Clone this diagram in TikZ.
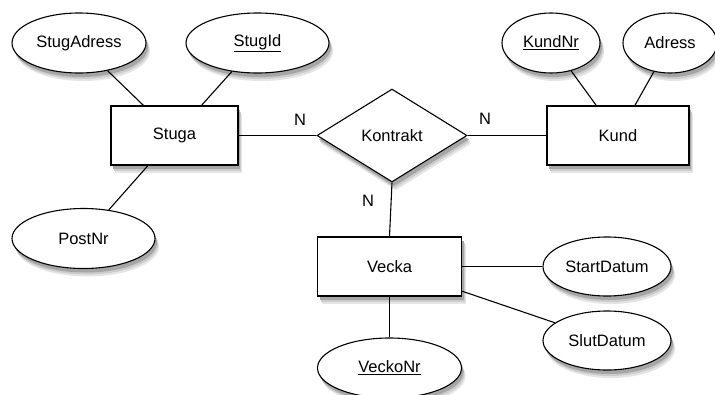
\documentclass[tikz,border=0pt]{standalone}
\usepackage{fontspec}
\setmainfont{Liberation Sans}
\usetikzlibrary{shapes.geometric,calc}

\begin{document}
\begin{tikzpicture}[x=1pt,y=-1pt,
  base/.style={draw=black, line width=1.1pt, fill=white,
    font=\fontsize{16.5}{20}\selectfont, inner sep=0pt},
  ent/.style={base, rectangle, minimum height=59pt},
  attr/.style={base, ellipse, minimum height=60pt},
  rel/.style={base, diamond, minimum width=150pt, minimum height=93pt},
  link/.style={line width=1.1pt},
  card/.style={font=\fontsize{16.5}{20}\selectfont, inner sep=0pt},
  sh1/.style={fill=black!10},
  sh2/.style={fill=black!20},
  sh3/.style={fill=black!35}]
\fill[white] (0,0) rectangle (715,394);
\useasboundingbox (0,0) rectangle (715,394);

% soft drop shadows, drawn first so that the shapes cover them
\foreach \st/\dx/\dy in {sh1/4/8, sh2/3/6, sh3/2/4}{
  \foreach \cx/\cy/\w in {174.5/135.5/127, 618/135.5/142, 389.5/266.5/144}{
    \fill[\st] (\cx-\w/2+\dx,\cy-29.5+\dy) rectangle (\cx+\w/2+\dx,\cy+29.5+\dy);
  }
  \foreach \cx/\cy/\rx/\ry in {79/43/67/30, 257.5/43/71.5/30, 83.5/238.5/71.5/30, 551/43/49/30,
      670/43/47/30, 607/266.5/64/29.5, 607/340.5/64/29.5, 389.5/368/72/30}{
    \fill[\st] (\cx+\dx,\cy+\dy) ellipse [x radius=\rx, y radius=\ry];
  }
  \fill[\st] (392+\dx,89+\dy) -- (467+\dx,135.5+\dy) -- (392+\dx,182+\dy) -- (317+\dx,135.5+\dy) -- cycle;
}

% entities
\node[ent, minimum width=127pt] (stuga) at (174.5,135.5) {Stuga};
\node[ent, minimum width=142pt] (kund) at (618,135.5) {Kund};
\node[ent, minimum width=144pt] (vecka) at (389.5,266.5) {Vecka};
\node[rel] (kontrakt) at (392,135.5) {Kontrakt};

% attributes
\node[attr, minimum width=134pt] (stugadress) at (79,43) {StugAdress};
\node[attr, minimum width=143pt] (stugid) at (257.5,43) {\underline{StugId}};
\node[attr, minimum width=143pt] (postnr) at (83.5,238.5) {PostNr};
\node[attr, minimum width=98pt] (kundnr) at (551,43) {\underline{KundNr}};
\node[attr, minimum width=94pt] (adress) at (670,43) {Adress};
\node[attr, minimum width=128pt, minimum height=59pt] (startdatum) at (607,266.5) {StartDatum};
\node[attr, minimum width=128pt, minimum height=59pt] (slutdatum) at (607,340.5) {SlutDatum};
\node[attr, minimum width=144pt] (veckonr) at (389.5,368) {\underline{VeckoNr}};

% connectors
\draw[link] (stuga) -- (stugadress);
\draw[link] (stuga) -- (stugid);
\draw[link] (stuga) -- (postnr);
\draw[link] (kund) -- (kundnr);
\draw[link] (kund) -- (adress);
\draw[link] (vecka) -- (startdatum);
\draw[link] (vecka) -- (slutdatum);
\draw[link] (vecka) -- (veckonr);
\draw[link] (stuga) -- (kontrakt);
\draw[link] (kontrakt) -- (kund);
\draw[link] (kontrakt.south) -- (vecka.north);

% cardinalities
\node[card] (n1) at (300,120) {N};
\node[card] (n2) at (485,119) {N};
\node[card] (n3) at (368,201) {N};
\end{tikzpicture}
\end{document}
